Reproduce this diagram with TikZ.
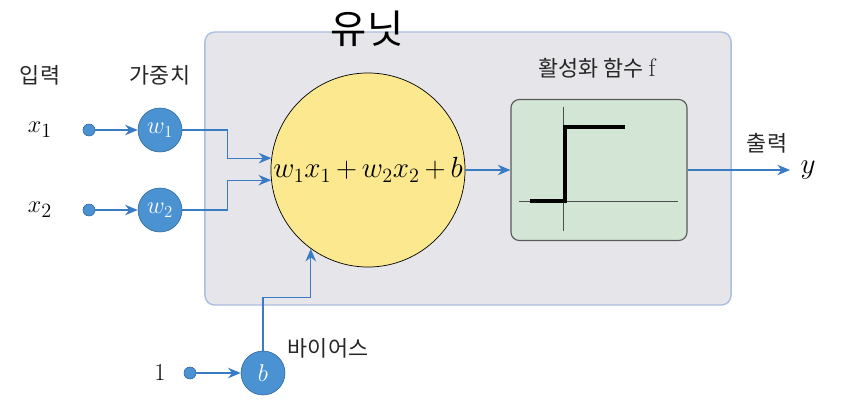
\documentclass[tikz,border=0pt]{standalone}
\usepackage{fontspec}
\newfontfamily\kr{Noto Sans CJK KR}
\usetikzlibrary{positioning,arrows.meta}

\definecolor{nblue}{HTML}{4A92D2}
\definecolor{lblue}{HTML}{3A7CC4}
\definecolor{boxgray}{HTML}{E6E6EA}
\definecolor{boxline}{HTML}{A9BEE0}
\definecolor{sumyel}{HTML}{FBE88F}
\definecolor{actgrn}{HTML}{D3E5D5}

\begin{document}
\begin{tikzpicture}[x=0.025cm,y=-0.025cm,
  arr/.style={draw=lblue, line width=0.9pt, -{Stealth[length=9pt,width=7.5pt]}},
  wnode/.style={circle, fill=nblue, draw=lblue!80!black, line width=0.4pt,
    minimum size=1.1cm, inner sep=0pt, text=white, font=\fontsize{18}{21}\selectfont},
  dot/.style={circle, fill=nblue, draw=lblue!80!black, line width=0.4pt,
    minimum size=0.3cm, inner sep=0pt},
  krlabel/.style={font=\kr\fontsize{15.5}{18}\selectfont, text=black!85},
  mlabel/.style={font=\fontsize{19}{22}\selectfont}]
\useasboundingbox (0,0) rectangle (844,416);

\def\xa{40}
\def\xb{89}
\def\xc{160}

\def\ya{75}
\def\yb{130}
\def\yc{210}
\def\yd{373}

% unit box
\node[draw=boxline, fill=boxgray, line width=1pt, rounded corners=7pt,
  minimum width=13.15cm, minimum height=6.825cm] (unit) at (468,168.5) {};
\node[font=\kr\fontsize{28}{32}\selectfont] (title) at (367,29) {유닛};

% inputs and weights
\node[krlabel] (inlbl) at (\xa,\ya) {입력};
\node[krlabel] (wlbl) at (\xc,\ya) {가중치};

\node[mlabel] (x1) at (\xa,\yb) {$x_1$};
\node[mlabel] (x2) at (\xa,\yc) {$x_2$};
\node[dot] (d1) at (\xb,\yb) {};
\node[dot] (d2) at (\xb,\yc) {};
\node[wnode] (w1) at (\xc,\yb) {$w_1$};
\node[wnode] (w2) at (\xc,\yc) {$w_2$};

% sum
\node[circle, fill=sumyel, draw=black, line width=0.5pt, minimum size=4.85cm,
  inner sep=0pt, font=\fontsize{20}{23}\selectfont] (sum) at (368,170)
  {$w_1x_1{\,+\,}w_2x_2{\,+\,}b$};

\draw[arr] (d1) -- (w1);
\draw[arr] (d2) -- (w2);
\draw[arr] (w1.east) -- ++(45,0) |- (sum.173);
\draw[arr] (w2.east) -- ++(45,0) |- (sum.186);

% bias
\node[mlabel] (one) at (160,\yd) {$1$};
\node[dot] (d3) at (190,\yd) {};
\node[wnode] (b) at (263,\yd) {$b$};
\node[krlabel] (blbl) at (328,348) {바이어스};
\draw[arr] (d3) -- (b);
\draw[arr] (b.north) -- ++(0,-53) -| (sum.234);

% activation
\node[draw=black!65, fill=actgrn, line width=0.8pt, rounded corners=6pt,
  minimum width=4.4cm, minimum height=3.525cm] (act) at (599,170) {};
\node[krlabel] (actlbl) at (597,68) {활성화 함수 {\rmfamily\fontsize{18}{21}\selectfont f}};
\draw[black!70, line width=0.6pt] (563,107) -- (563,231);
\draw[black!70, line width=0.6pt] (519,201) -- (678,201);
\draw[line width=2.2pt] (530,201) -- (565,201) -- (565,127) -- (625,127);

\draw[arr] (sum.east) -- (act.west);

% output
\coordinate (yend) at (790,170);
\draw[arr] (act.east) -- (yend);
\node[right=4pt of yend, font=\fontsize{21}{24}\selectfont] (y) {$y$};
\node[krlabel] (outlbl) at (767,143) {출력};
\end{tikzpicture}
\end{document}
